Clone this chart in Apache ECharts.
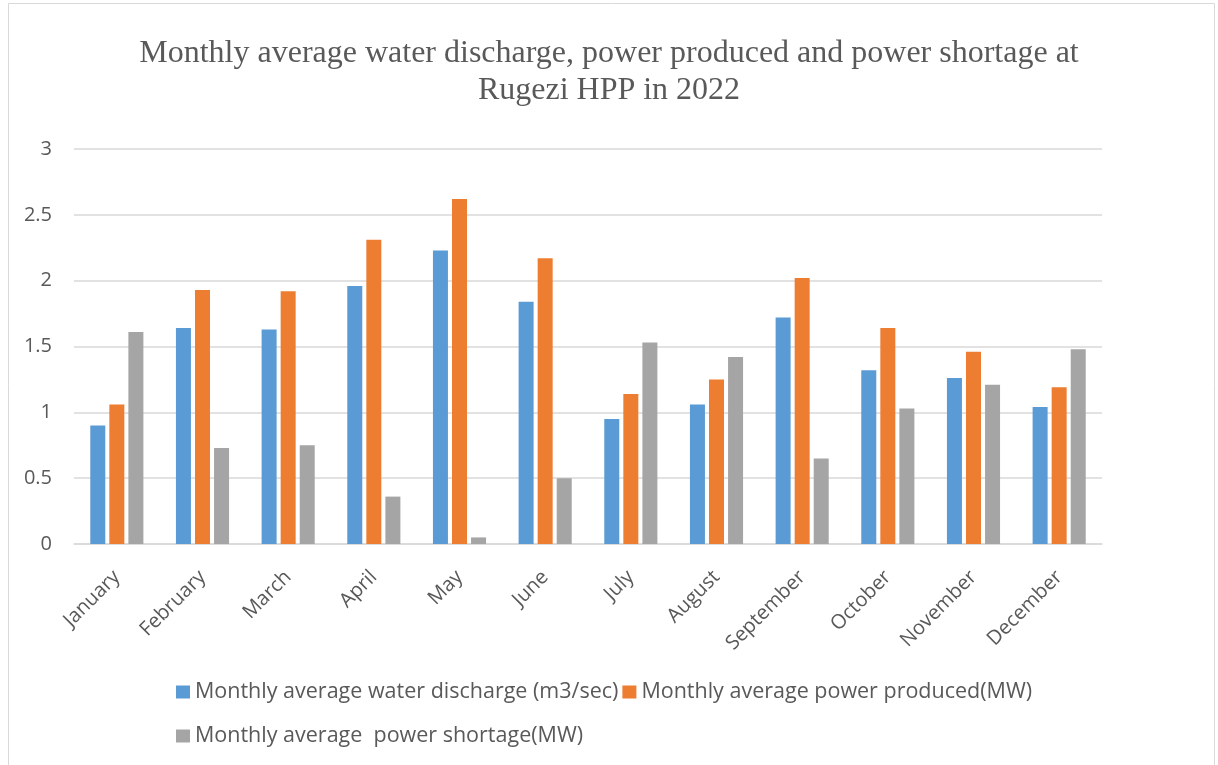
<!DOCTYPE html>
<html>
<head>
<meta charset="utf-8">
<script src="https://cdn.jsdelivr.net/npm/echarts@6/dist/echarts.min.js"></script>
<style>
  html, body { margin: 0; padding: 0; background: #fff; }
  #container { width: 1218px; height: 765px; }
</style>
</head>
<body>
<div id="container"></div>
<script>
// chart data
var months = ['January', 'February', 'March', 'April', 'May', 'June', 'July', 'August', 'September', 'October', 'November', 'December'];
var waterDischarge = [0.90, 1.64, 1.63, 1.96, 2.23, 1.84, 0.95, 1.06, 1.72, 1.32, 1.26, 1.04];
var powerProduced = [1.06, 1.93, 1.92, 2.31, 2.62, 2.17, 1.14, 1.25, 2.02, 1.64, 1.46, 1.19];
var powerShortage = [1.61, 0.73, 0.75, 0.36, 0.05, 0.50, 1.53, 1.42, 0.65, 1.03, 1.21, 1.48];
var yTicks = [0, 0.5, 1, 1.5, 2, 2.5, 3];

var seriesNames = [
  'Monthly average water discharge (m3/sec)',
  'Monthly average power produced(MW)',
  'Monthly average  power shortage(MW)'
];

var dom = document.getElementById('container');
var chart = echarts.init(dom);

var legendText = { fontFamily: 'Open Sans', fontSize: 21.5, color: '#595959' };

chart.setOption({
  animation: false,
  color: ['#5B9BD5', '#ED7D31', '#A5A5A5'],
  title: {
    text: 'Monthly average water discharge, power produced and power shortage at\nRugezi HPP in 2022',
    left: 'center',
    top: 30,
    textStyle: {
      fontFamily: 'Liberation Serif',
      fontWeight: 'normal',
      fontSize: 32,
      lineHeight: 37,
      color: '#595959'
    }
  },
  graphic: [{
    type: 'rect',
    shape: { x: 8.5, y: 3.5, width: 1206, height: 800 },
    style: { fill: 'none', stroke: '#D9D9D9', lineWidth: 1 },
    silent: true
  }],
  legend: [{
    data: seriesNames.slice(0, 2),
    left: 171,
    top: 676,
    itemWidth: 14,
    itemHeight: 13,
    itemGap: 4,
    icon: 'rect',
    textStyle: legendText
  }, {
    data: seriesNames.slice(2),
    left: 171,
    top: 720,
    itemWidth: 14,
    itemHeight: 13,
    icon: 'rect',
    textStyle: legendText
  }],
  grid: { left: 74, right: 116, top: 149, bottom: 221, containLabel: false },
  xAxis: {
    type: 'category',
    data: months,
    axisLine: { lineStyle: { color: '#D9D9D9', width: 1.5 } },
    axisTick: { show: false },
    axisLabel: {
      rotate: 45,
      interval: 0,
      margin: 30,
      fontFamily: 'Open Sans',
      fontSize: 20,
      color: '#595959'
    }
  },
  yAxis: {
    type: 'value',
    min: yTicks[0],
    max: yTicks[yTicks.length - 1],
    interval: 0.5,
    axisLine: { show: false },
    axisTick: { show: false },
    splitLine: { lineStyle: { color: '#D9D9D9', width: 1.5 } },
    axisLabel: {
      margin: 22,
      fontFamily: 'Open Sans',
      fontSize: 20,
      color: '#595959'
    }
  },
  series: [
    { name: seriesNames[0], type: 'bar', data: waterDischarge, barGap: '27%', barCategoryGap: '38%' },
    { name: seriesNames[1], type: 'bar', data: powerProduced, barGap: '27%', barCategoryGap: '38%' },
    { name: seriesNames[2], type: 'bar', data: powerShortage, barGap: '27%', barCategoryGap: '38%' }
  ]
});
</script>
</body>
</html>
